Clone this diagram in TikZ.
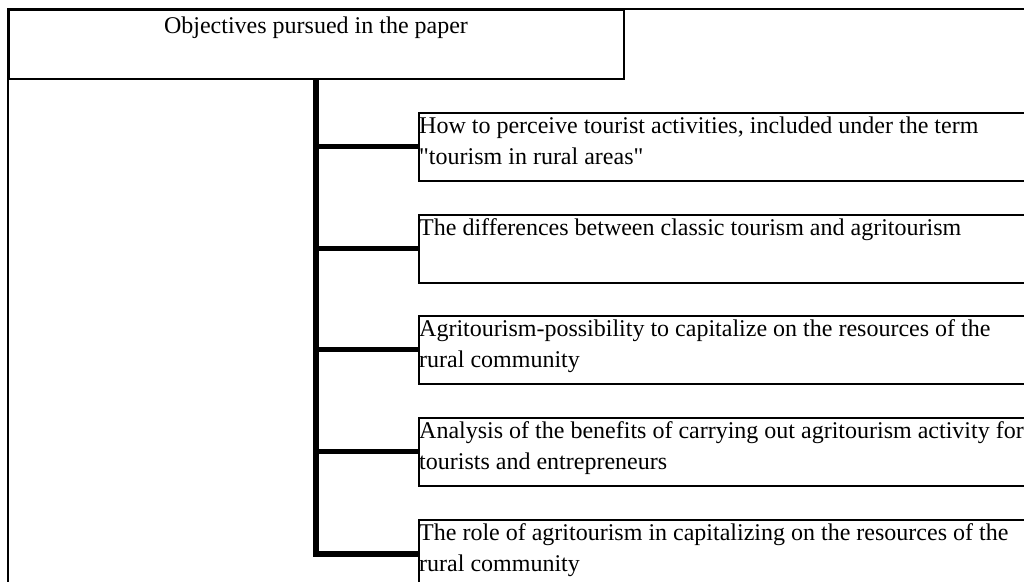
\documentclass[tikz,border=0pt]{standalone}
\usepackage{fontspec}
\setmainfont{Liberation Serif}
\newfontfamily\qfont{Liberation Serif}[Ligatures=ResetAll]
\begin{document}
\begin{tikzpicture}[x=1pt,y=-1pt,
  frameline/.style={line width=2pt},
  titlebox/.style={draw, line width=1.8pt, rectangle, anchor=north west, minimum width=615pt, minimum height=69pt, inner sep=0pt},
  objbox/.style={draw, line width=1.6pt, rectangle, anchor=north west, minimum width=700pt, minimum height=68pt, inner sep=0pt},
  objtext/.style={anchor=north west, font=\fontsize{24}{31}\selectfont, align=left, inner sep=0pt},
  titletext/.style={anchor=base, font=\fontsize{24}{31}\selectfont, inner sep=0pt},
  trunk/.style={line width=6pt, line join=miter},
  branch/.style={line width=5pt}]
\useasboundingbox (0,0) rectangle (1024,581);
\clip (0,0) rectangle (1024,581);
\fill[white] (0,0) rectangle (1024,581);
% outer frame
\coordinate (frtl) at (8,9);
\coordinate (frtr) at (1040,9);
\coordinate (frbl) at (8,600);
\draw[frameline] (frtr) -- (frtl) -- (frbl);
% title
\node[titlebox] (title) at (8,9) {};
\node[titletext] (ttext) at (316,33) {Objectives pursued in the paper};
% boxes
\node[objbox] (b1) at (418,112) {};
\node[objbox] (b2) at (418,214) {};
\node[objbox] (b3) at (418,315) {};
\node[objbox] (b4) at (418,417) {};
\node[objbox] (b5) at (418,519) {};
\node[objtext] (t1) at (419,116.5) {How to perceive tourist activities, included under the term\\{\qfont"}tourism in rural areas{\qfont"}};
\node[objtext] (t2) at (419,218.5) {The differences between classic tourism and agritourism};
\node[objtext] (t3) at (419,319.5) {Agritourism-possibility to capitalize on the resources of the\\rural community};
\node[objtext] (t4) at (419,421.5) {Analysis of the benefits of carrying out agritourism activity for\\tourists and entrepreneurs};
\node[objtext] (t5) at (419,523.5) {The role of agritourism in capitalizing on the resources of the\\rural community};
% connectors
\draw[trunk] (title.south) |- (b5.west);
\foreach \b in {b1,b2,b3,b4}{
  \draw[branch] (title.south |- \b.west) -- (\b.west);
}
\end{tikzpicture}
\end{document}
